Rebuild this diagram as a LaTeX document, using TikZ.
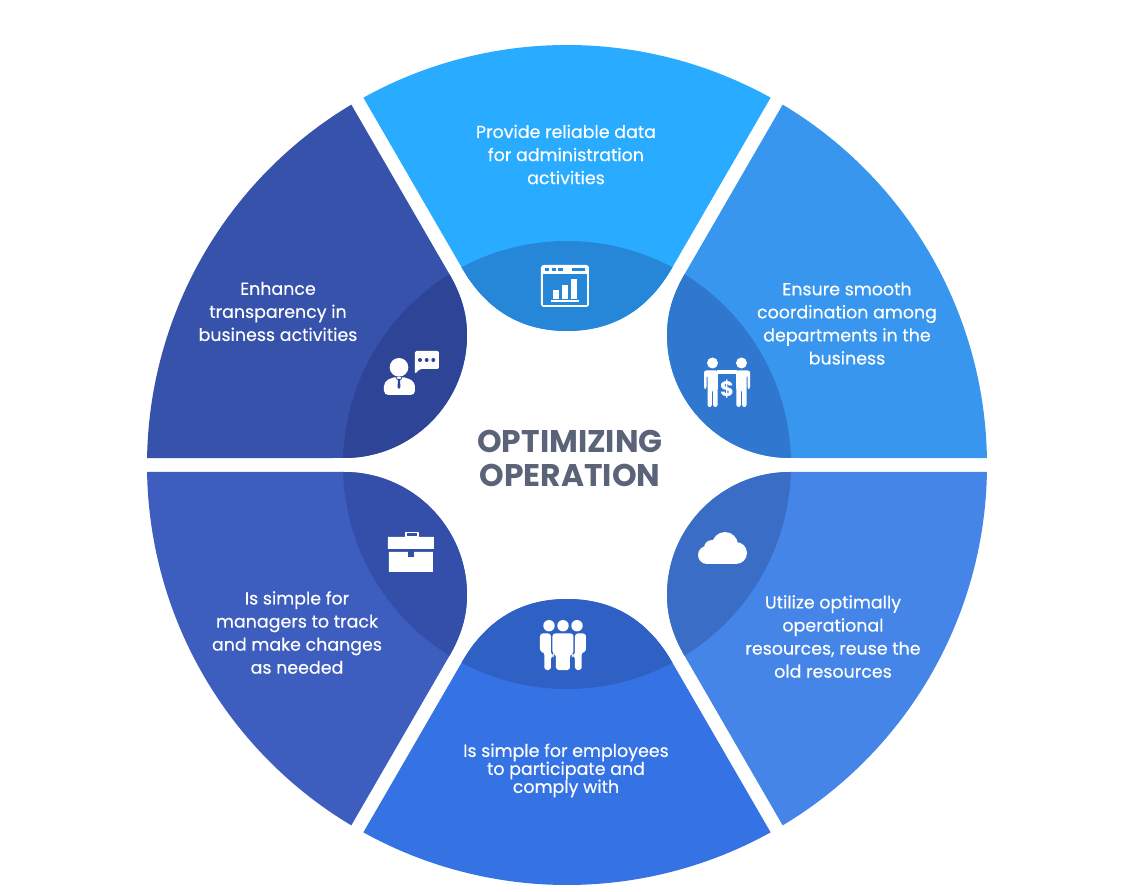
\documentclass[tikz,border=0pt]{standalone}
\usepackage{fontspec}
\setmainfont{Poppins}
\newfontfamily\labelfont[FakeBold=0.25]{Poppins}
\definecolor{topbase}{HTML}{29ACFF} \definecolor{topdark}{HTML}{2687D9}
\definecolor{rupbase}{HTML}{3896EE} \definecolor{rupdark}{HTML}{2F77CF}
\definecolor{rlowbase}{HTML}{4485E7} \definecolor{rlowdark}{HTML}{3A6DC6}
\definecolor{botbase}{HTML}{3573E4} \definecolor{botdark}{HTML}{2F60C4}
\definecolor{llowbase}{HTML}{3D5DBF} \definecolor{llowdark}{HTML}{334FA9}
\definecolor{lupbase}{HTML}{3652AB} \definecolor{lupdark}{HTML}{2E4597}
\definecolor{titlegray}{HTML}{5A6378}
\tikzset{
	petaltop/.style={insert path={(61:420) arc[start angle=61,end angle=119,radius=420] -- (-105,197) .. controls (-82,157) and (-48,134) .. (0,134) .. controls (48,134) and (82,157) .. (105,197) -- cycle}},
	petalside/.style={insert path={(0.95:420) arc[start angle=0.95,end angle=59.1,radius=420] -- (120,195) .. controls (108,175) and (100,155) .. (100,130) .. controls (100,62) and (155,7) .. (223,7) -- cycle}},
	seglabel/.style={text=white,align=center,inner sep=0pt,font=\labelfont\fontsize{12.4}{16.4}\selectfont},
	titlelabel/.style={text=titlegray,align=center,inner sep=0pt,font=\fontsize{22.3}{24.2}\selectfont\bfseries}
}
\begin{document}
\begin{tikzpicture}[scale=0.025,line join=round]
		\useasboundingbox (-567,-427) rectangle (565,465) ;
		\foreach \Petal/\Sx/\Sy/\Base/\Dark in {petaltop/1/1/topbase/topdark,petalside/1/1/rupbase/rupdark,petalside/1/-1/rlowbase/rlowdark,petaltop/1/-1/botbase/botdark,petalside/-1/-1/llowbase/llowdark,petalside/-1/1/lupbase/lupdark} {
			\begin{scope}[xscale=\Sx,yscale=\Sy]
				\fill[\Base,\Petal] ;
				\begin{scope}
					\clip[\Petal] ;
					\fill[\Dark] (0,0) circle[radius=224] ;
				\end{scope}
			\end{scope}
		}
		\node[titlelabel] (title) at (3,7) {OPTIMIZING\\OPERATION} ;
		\node[seglabel] (top) at (-1,310.5) {Provide reliable data\\for administration\\activities} ;
		\node[seglabel] (rup) at (280,141.5) {Ensure smooth\\coordination among\\departments in the\\business} ;
		\node[seglabel] (rlow) at (266,-171.5) {Utilize optimally\\operational\\resources, reuse the\\old resources} ;
		\node[seglabel,font=\labelfont\fontsize{12.4}{12.8}\selectfont] (bot) at (-1,-305.5) {Is simple for employees\\to participate and\\comply with} ;
		\node[seglabel] (llow) at (-270,-167.5) {Is simple for\\managers to track\\and make changes\\as needed} ;
		\node[seglabel] (lup) at (-289,153.5) {Enhance\\transparency in\\business activities} ;
		% window with bars
		\begin{scope}[shift={(-2,179)}]
			\fill[white,rounded corners=2pt] (-24,-21) rectangle (24,21) ;
			\fill[topdark] (-22,-19) rectangle (22,12) ;
			\foreach \Left/\Right in {-20/-16,-13/-9,-7/-2,7/20} \fill[topdark] (\Left,15) rectangle (\Right,17.5) ;
			\foreach \Left/\High in {-12/-4,-3/1,6/7} \fill[white] (\Left,-13) rectangle (\Left+6.5,\High) ;
			\fill[white] (-14,-16) rectangle (14,-14) ;
		\end{scope}
		% two men and dollar
		\begin{scope}[shift={(160,77)}]
			\foreach \Sx in {-1,1} {
				\begin{scope}[xscale=\Sx]
					\fill[white] (14.5,25) circle[radius=5.5] ;
					\fill[white,rounded corners=1.5pt] (9,17.5) -- (23,17.5) -- (23,-1) -- (20.5,-1) -- (20.5,13) -- (19.5,13) -- (19.5,-19) -- (15.2,-19) -- (15.2,-2) -- (13.8,-2) -- (13.8,-19) -- (9.5,-19) -- cycle ;
				\end{scope}
			}
			\fill[white] (-10,17.5) rectangle (10,14) ;
			\node[text=white,inner sep=0pt,font=\fontsize{15}{15}\selectfont\bfseries] (dollar) at (0,-1) {\$} ;
		\end{scope}
		% cloud
		\begin{scope}[shift={(155,-83)}]
			\fill[white] (-15,-16) rectangle (14,-4) ;
			\foreach \Cx/\Cy/\Rad in {-15/-7/9,-10/0/8,3/3/13,14/-5/11} \fill[white] (\Cx,\Cy) circle[radius=\Rad] ;
		\end{scope}
		% team
		\begin{scope}[shift={(-4,-183)}]
			\foreach \Head in {-14,0,14} \fill[white] (\Head,22.3) circle[radius=5.7] ;
			\fill[white,rounded corners=2pt] (-10.5,14.5) -- (10.5,14.5) -- (10.5,-6) -- (7,-6) -- (7,-22) -- (-7,-22) -- (-7,-6) -- (-10.5,-6) -- cycle ;
			\foreach \Sx in {-1,1} \fill[white,rounded corners=2pt,xscale=\Sx] (12,14.5) -- (23,14.5) -- (23,-4) -- (18.7,-4) -- (18.7,-22) -- (12,-22) -- (12,-8) -- (9,-8) -- (9,-7) -- (12,-7) -- cycle ;
		\end{scope}
		% briefcase
		\begin{scope}[shift={(-156,-87)}]
			\draw[white,line width=1.4pt] (-5,15) rectangle (7,19.5) ;
			\fill[white] (-23,15) rectangle (23,3) (-22,0) rectangle (22,-20) ;
			\fill[llowdark] (-3,3) rectangle (3,-5) ;
		\end{scope}
		% man with speech bubble
		\begin{scope}[shift={(-156,92)}]
			\fill[white] (-12,5.7) circle[radius=9.3] ;
			\fill[white,rounded corners=3pt] (-27,-22) -- (-27,-9) -- (-18,-4) -- (-6,-4) -- (4,-9) -- (4,-22) -- cycle ;
			\draw[lupdark,line width=0.5pt] (-15,-4) -- (-13.5,-7) (-9,-4) -- (-10.5,-7) ;
			\fill[lupdark] (-13.5,-6) -- (-10.5,-6) -- (-11,-8) -- (-10.5,-14) -- (-12,-16) -- (-13.5,-14) -- (-13,-8) -- cycle ;
			\fill[white,rounded corners=1pt] (4,22) -- (28,22) -- (28,4) -- (9,4) -- (4,-1) -- cycle ;
			\foreach \Dot in {9,15.7,22.3} \fill[lupdark] (\Dot,13) circle[radius=2] ;
		\end{scope}
	\end{tikzpicture}
\end{document}
